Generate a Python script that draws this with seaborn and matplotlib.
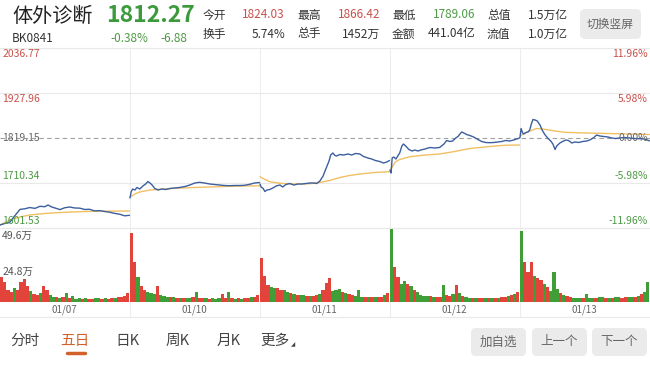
import matplotlib
matplotlib.use('Agg')
import matplotlib.pyplot as plt
from matplotlib.patches import FancyBboxPatch
from matplotlib.lines import Line2D
import seaborn as sns
import pandas as pd

sns.set_theme(style='white')
plt.rcParams['font.family'] = ['Noto Sans CJK SC', 'DejaVu Sans']

W, H = 650, 366

# ---------------- data ----------------
prev_close = 1819.15
price_ticks = [2036.77, 1927.96, 1819.15, 1710.34, 1601.53]
pct_labels = ['11.96%', '5.98%', '0.00%', '-5.98%', '-11.96%']
vol_ticks = [49.6, 24.8]
vol_labels = ['49.6万', '24.8万']
dates = ['01/07', '01/10', '01/11', '01/12', '01/13']
MIN_PER_DAY = 241
BIN = 6

d1_min = [0, 9, 18, 28, 37, 46, 55, 65, 74, 83, 89, 96, 103, 111, 120, 129, 138, 148, 157, 166, 175, 185, 194, 203, 212, 222, 231, 240]
d1_price = [1608.8, 1612.5, 1615.0, 1632.0, 1646.5, 1648.0, 1651.0, 1649.0, 1654.0, 1653.0, 1657.1, 1652.3, 1649.5, 1646.0, 1650.5, 1652.3, 1650.0, 1649.5, 1646.3, 1646.8, 1643.0, 1643.5, 1641.4, 1639.8, 1637.0, 1634.8, 1631.0, 1632.2]
d1_avg_min = [0, 4, 18, 37, 55, 83, 111, 148, 185, 240]
d1_avg = [1608.8, 1611.2, 1620.9, 1628.1, 1633.0, 1636.6, 1639.0, 1640.9, 1642.2, 1642.6]

d2_min = [0, 2, 5, 9, 13, 18, 24, 30, 33, 37, 41, 46, 52, 59, 66, 74, 83, 92, 102, 111, 120, 129, 138, 148, 157, 166, 175, 185, 194, 203, 212, 222, 231, 240]
d2_price = [1674.1, 1688.6, 1695.8, 1693.4, 1699.5, 1695.8, 1703.1, 1709.1, 1713.9, 1710.3, 1705.5, 1697.0, 1693.4, 1695.8, 1694.6, 1697.0, 1698.3, 1699.5, 1701.9, 1705.5, 1710.3, 1712.0, 1710.3, 1707.9, 1706.7, 1705.5, 1704.3, 1703.8, 1704.3, 1704.3, 1704.8, 1707.2, 1710.3, 1711.5]
d2_avg_min = [0, 9, 18, 37, 74, 129, 185, 240]
d2_avg = [1676.5, 1683.7, 1688.6, 1693.4, 1697.0, 1699.9, 1702.4, 1703.6]

d3_min = [0, 2, 6, 9, 13, 18, 24, 30, 37, 42, 48, 55, 63, 70, 78, 85, 92, 100, 105, 111, 117, 122, 128, 131, 135, 139, 142, 148, 155, 163, 170, 177, 185, 192, 200, 207, 214, 222, 229, 235, 240]
d3_price = [1707.9, 1700.7, 1697.0, 1689.8, 1693.4, 1694.6, 1698.3, 1703.1, 1705.5, 1700.7, 1706.7, 1709.1, 1705.5, 1707.9, 1707.9, 1709.1, 1710.3, 1710.3, 1709.1, 1715.2, 1727.3, 1744.2, 1763.5, 1778.0, 1782.9, 1776.8, 1775.6, 1779.3, 1778.0, 1780.5, 1778.0, 1781.7, 1780.5, 1774.4, 1770.8, 1768.4, 1764.7, 1762.3, 1758.7, 1761.1, 1764.7]
d3_avg_min = [0, 9, 18, 37, 65, 92, 111, 129, 148, 166, 185, 212, 240]
d3_avg = [1725.6, 1718.8, 1713.5, 1709.6, 1707.9, 1708.6, 1711.5, 1716.4, 1723.6, 1728.5, 1732.1, 1735.7, 1737.7]

d4_min = [0, 2, 4, 7, 11, 15, 18, 22, 25, 30, 35, 41, 46, 52, 57, 65, 74, 83, 92, 100, 105, 111, 116, 122, 126, 129, 133, 137, 142, 148, 155, 163, 170, 177, 185, 192, 200, 207, 214, 222, 229, 235, 240]
d4_price = [1741.8, 1734.5, 1770.8, 1773.2, 1768.4, 1776.8, 1782.9, 1799.8, 1804.6, 1798.6, 1791.3, 1787.7, 1790.1, 1787.7, 1790.1, 1792.6, 1796.2, 1795.0, 1796.2, 1804.6, 1813.1, 1810.7, 1811.9, 1819.2, 1822.8, 1827.6, 1833.7, 1831.2, 1827.6, 1825.2, 1821.6, 1815.5, 1810.7, 1808.3, 1807.8, 1808.3, 1809.5, 1810.7, 1813.1, 1811.9, 1814.3, 1816.7, 1819.2]
d4_avg_min = [0, 6, 11, 18, 37, 65, 92, 120, 148, 185, 212, 240]
d4_avg = [1739.4, 1753.9, 1762.3, 1767.2, 1773.9, 1778.0, 1780.5, 1786.5, 1793.8, 1798.6, 1801.5, 1802.2]

d5_min = [0, 2, 5, 7, 11, 15, 18, 21, 24, 28, 32, 37, 41, 46, 52, 57, 61, 65, 68, 74, 79, 85, 90, 96, 102, 109, 116, 124, 131, 137, 142, 148, 155, 163, 170, 177, 185, 194, 203, 212, 222, 231, 240]
d5_price = [1820.4, 1842.1, 1831.2, 1828.8, 1832.4, 1833.7, 1838.5, 1853.0, 1863.9, 1862.7, 1860.3, 1850.6, 1838.5, 1827.6, 1817.9, 1811.9, 1804.6, 1791.3, 1799.8, 1807.1, 1810.7, 1814.3, 1813.1, 1807.1, 1809.5, 1808.3, 1810.7, 1811.9, 1815.5, 1820.4, 1826.4, 1824.0, 1822.8, 1821.6, 1819.2, 1817.9, 1819.2, 1820.4, 1819.2, 1817.9, 1817.5, 1816.7, 1812.27]
d5_avg_min = [0, 9, 18, 31, 46, 65, 83, 111, 148, 185, 240]
d5_avg = [1824.0, 1831.2, 1836.1, 1842.1, 1840.2, 1836.1, 1832.9, 1831.7, 1830.5, 1829.3, 1827.6]

# volume in 万 per 6-minute bin (40 bins per day)
v1 = [16.8, 13.4, 8.0, 6.7, 9.4, 8.0, 13.4, 15.4, 10.7, 7.4, 5.4, 4.7, 6.0, 10.7, 8.0, 4.7, 3.4, 3.4, 2.7, 3.4,
      6.0, 2.7, 4.0, 2.0, 2.4, 1.8, 2.6, 2.2, 2.0, 2.4, 2.7, 2.1, 2.7, 2.3, 2.7, 2.7, 3.4, 3.4, 4.0, 6.0]
v2 = [46.2, 26.8, 16.8, 10.7, 8.0, 6.7, 6.0, 5.4, 10.7, 4.7, 4.0, 3.4, 3.4, 3.4, 2.7, 2.7, 2.7, 2.7, 2.7, 3.4,
      6.7, 2.7, 2.7, 2.7, 2.0, 2.7, 2.0, 2.7, 5.4, 2.7, 6.7, 2.7, 2.0, 2.7, 2.0, 2.7, 2.7, 3.4, 3.4, 4.7]
v3 = [29.5, 17.4, 11.4, 10.0, 9.4, 9.4, 8.0, 8.0, 6.7, 6.0, 5.4, 4.7, 4.7, 4.7, 4.0, 4.0, 4.0, 4.7, 5.4, 8.0,
      12.7, 16.1, 7.4, 8.0, 8.7, 6.7, 6.0, 5.4, 4.7, 4.0, 8.0, 3.4, 3.4, 3.4, 3.4, 3.4, 3.4, 3.4, 4.7, 6.0]
v4 = [48.9, 23.5, 16.8, 12.1, 14.1, 12.1, 10.7, 8.0, 6.7, 4.7, 4.0, 4.0, 4.0, 3.4, 3.4, 3.4, 11.4, 4.7, 4.0, 5.4,
      11.4, 6.0, 4.0, 3.4, 2.7, 2.7, 2.7, 2.7, 2.7, 2.7, 2.7, 2.7, 2.7, 2.7, 3.4, 3.4, 4.0, 4.7, 5.4, 6.7]
v5 = [47.6, 26.8, 20.1, 26.8, 17.4, 16.1, 14.7, 12.1, 10.0, 7.4, 20.1, 8.7, 6.0, 4.7, 4.0, 3.4, 2.7, 2.7, 2.7, 2.7,
      5.4, 2.7, 2.7, 2.7, 3.4, 3.4, 2.7, 2.7, 2.7, 3.4, 3.4, 2.7, 3.4, 3.4, 3.4, 3.4, 4.0, 5.4, 6.7, 13.4]
c1 = "rrrrgrrrrg" "rrgrrggrgr" "grgggrgrrg" "grgrrgrrrr"
c2 = "rrgrrgggrg" "ggrgrgrggr" "grrgrgggrr" "grgrgrrgrr"
c3 = "rrrggrrggr" "grggrgrrgr" "rrgggrgrrg" "ggrgrgrrgr"
c4 = "grrggrgrgg" "ggrgrrgrrg" "rgrggrgrrg" "rgrgrrgrgr"
c5 = "grrrgrrgrg" "ggrgrrgggr" "gggrggrgrg" "grrggrgrgg"

# ---------------- build tables ----------------
price_days = [(d1_min, d1_price), (d2_min, d2_price), (d3_min, d3_price), (d4_min, d4_price), (d5_min, d5_price)]
avg_days = [(d1_avg_min, d1_avg), (d2_avg_min, d2_avg), (d3_avg_min, d3_avg), (d4_avg_min, d4_avg), (d5_avg_min, d5_avg)]
vol_days = [(v1, c1), (v2, c2), (v3, c3), (v4, c4), (v5, c5)]

rows = []
for d, (ms, ps) in enumerate(price_days):
    for m, p in zip(ms, ps):
        rows.append({'day': d, 'x': d * MIN_PER_DAY + m, 'v': p})
df_price = pd.DataFrame(rows)
rows = []
for d, (ms, ps) in enumerate(avg_days):
    for m, p in zip(ms, ps):
        rows.append({'day': d, 'x': d * MIN_PER_DAY + m, 'v': p})
df_avg = pd.DataFrame(rows)
RED, GREEN = '#e2433b', '#3f9e36'
vx, vh, vc = [], [], []
for d, (vals, cols) in enumerate(vol_days):
    for i, (v, c) in enumerate(zip(vals, cols)):
        vx.append(d * MIN_PER_DAY + i * BIN + BIN / 2)
        vh.append(v)
        vc.append(RED if c == 'r' else GREEN)

# ---------------- figure ----------------
fig = plt.figure(figsize=(W / 100, H / 100), dpi=100)
fig.patch.set_facecolor('white')

def fx(x):
    return x / W

def fy(y):
    return 1 - y / H

XMAX = 5 * MIN_PER_DAY
ax_p = fig.add_axes([0, fy(228), 1, 180 / H])
ax_v = fig.add_axes([0, fy(317), 1, 89 / H])
for ax in (ax_p, ax_v):
    ax.set_xlim(0, XMAX)
    ax.axis('off')
    ax.patch.set_alpha(0)
    for d in range(1, 5):
        ax.axvline(d * MIN_PER_DAY, color='#ededed', lw=0.8, zorder=0)

ax_p.set_ylim(price_ticks[-1], price_ticks[0])
for t in price_ticks:
    if t == prev_close:
        ax_p.axhline(t, color='#a0a0a0', lw=0.8, ls=(0, (4, 3)), zorder=1)
    else:
        ax_p.axhline(t, color='#e9e9e9', lw=0.8, zorder=0, clip_on=False)

sns.lineplot(data=df_avg, x='x', y='v', units='day', estimator=None, color='#f0c062',
             lw=1.0, ax=ax_p, legend=False, zorder=2)
sns.lineplot(data=df_price, x='x', y='v', units='day', estimator=None, color='#3c5f9f',
             lw=1.0, ax=ax_p, legend=False, zorder=3)
ax_p.axis('off')

lab_cols = ['#c9504a', '#c9504a', '#666666', '#4e9a45', '#4e9a45']
down_px = [6, 6, 0, -7, -7]
for t, pl, c, o in zip(price_ticks, pct_labels, lab_cols, down_px):
    ax_p.annotate(f'{t:.2f}', xy=(0, t), xycoords=('axes fraction', 'data'),
                  xytext=(1.5, -o * 0.72), textcoords='offset points',
                  ha='left', va='center', fontsize=7.5, color=c, zorder=5)
    ax_p.annotate(pl, xy=(1, t), xycoords=('axes fraction', 'data'),
                  xytext=(-1.5, -o * 0.72), textcoords='offset points',
                  ha='right', va='center', fontsize=7.5, color=c, zorder=5)

# volume
vmax = vol_ticks[0]
ax_v.set_ylim(-vmax * 15 / 74, vmax)
ax_v.bar(vx, vh, width=BIN, color=vc, linewidth=0, zorder=2)
ax_v.axhline(vmax, color='#e9e9e9', lw=0.8, zorder=0, clip_on=False)
ax_v.axhline(-vmax * 15 / 74, color='#e9e9e9', lw=0.8, zorder=0, clip_on=False)
for t, l, o in zip(vol_ticks, vol_labels, [8, 7]):
    ax_v.annotate(l, xy=(0, t), xycoords=('axes fraction', 'data'),
                  xytext=(1.5, -o * 0.72), textcoords='offset points',
                  ha='left', va='center', fontsize=7.5, color='#555555', zorder=5)
for d, lab in enumerate(dates):
    ax_v.annotate(lab, xy=(d * MIN_PER_DAY + 120, 0), xycoords='data',
                  xytext=(0, -8 * 0.72), textcoords='offset points',
                  ha='center', va='center', fontsize=7, color='#666666')

# ---------------- header ----------------
fig.text(fx(12), fy(16), '体外诊断', fontsize=14.5, color='#222222', va='center', ha='left')
fig.text(fx(106), fy(16), '1812.27', fontsize=16.5, color='#3c9a3c', va='center', ha='left', weight='bold')
fig.text(fx(12), fy(39), 'BK0841', fontsize=8.5, color='#333333', va='center', ha='left')
fig.text(fx(110), fy(39), '-0.38%', fontsize=8.5, color='#4e9a45', va='center', ha='left')
fig.text(fx(160), fy(39), '-6.88', fontsize=8.5, color='#4e9a45', va='center', ha='left')

row1 = [('今开', 203, '1824.03', 285, '#c9504a'), ('最高', 297, '1866.42', 380, '#c9504a'),
        ('最低', 392, '1789.06', 475, '#4e9a45'), ('总值', 487, '1.5万亿', 568, '#333333')]
row2 = [('换手', 203, '5.74%', 285, '#333333'), ('总手', 297, '1452万', 380, '#333333'),
        ('金额', 392, '441.04亿', 475, '#333333'), ('流值', 487, '1.0万亿', 568, '#333333')]
for row, yy in ((row1, 15), (row2, 34)):
    for lab, lx, val, rx, c in row:
        fig.text(fx(lx), fy(yy), lab, fontsize=8.5, color='#333333', va='center', ha='left')
        fig.text(fx(rx), fy(yy), val, fontsize=8.5, color=c, va='center', ha='right')

def button(x0, y0, x1, y1, text, fs=8.5):
    fig.add_artist(FancyBboxPatch((fx(x0), fy(y1)), (x1 - x0) / W, (y1 - y0) / H,
                                  boxstyle=f'round,pad=0,rounding_size={5 / W}',
                                  mutation_aspect=W / H, transform=fig.transFigure,
                                  facecolor='#ebebeb', edgecolor='none'))
    fig.text(fx((x0 + x1) / 2), fy((y0 + y1) / 2), text, fontsize=fs, color='#666666',
             ha='center', va='center')

button(580, 9, 641, 39, '切换竖屏')

# ---------------- bottom tabs ----------------
tabs = [('分时', 25), ('五日', 75), ('日K', 127), ('周K', 178), ('月K', 229), ('更多', 275)]
for t, x in tabs:
    fig.text(fx(x), fy(341), t, fontsize=10.5, color='#d2602c' if t == '五日' else '#444444',
             ha='center', va='center')
fig.text(fx(293), fy(345), '◢', fontsize=4, color='#444444', ha='center', va='center',
         family=['DejaVu Sans'])
fig.add_artist(Line2D([fx(67), fx(85)], [fy(353), fy(353)], color='#d2602c', lw=2.5,
                      solid_capstyle='round', transform=fig.transFigure))
button(471, 328, 526, 356, '加自选', 9)
button(532, 328, 587, 356, '上一个', 9)
button(592, 328, 647, 356, '下一个', 9)

fig.savefig('out.png', dpi=100, facecolor='white')
